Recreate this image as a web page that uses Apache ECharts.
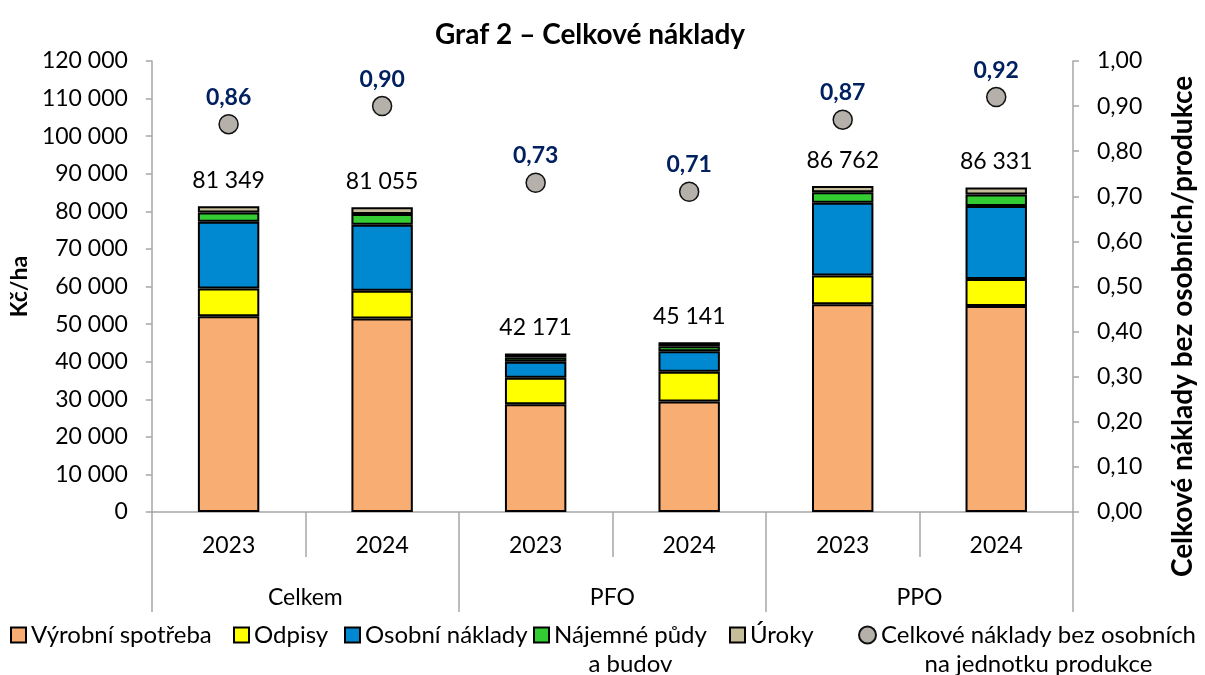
<!DOCTYPE html>
<html lang="cs">
<head>
  <meta charset="utf-8">
  <title>Graf 2 – Celkové náklady</title>
  <script src="https://cdn.jsdelivr.net/npm/echarts@6/dist/echarts.min.js"></script>
  <style>
    html, body { margin: 0; padding: 0; background: #fff; }
    #chart { width: 1205px; height: 675px; }
  </style>
</head>
<body>
<div id="chart"></div>
<script>
  // data
  const years = ['2023', '2024', '2023', '2024', '2023', '2024'];
  const groups = ['Celkem', 'PFO', 'PPO'];
  const vyrobni = [52100, 51500, 28700, 29400, 55300, 54800];
  const odpisy = [7400, 7400, 7000, 7900, 7600, 7200];
  const osobni = [17700, 17500, 4300, 5500, 19400, 19400];
  const najemne = [2500, 2900, 1100, 1300, 2800, 3100];
  const uroky = [1649, 1755, 1071, 1041, 1662, 1831];
  const totals = [81349, 81055, 42171, 45141, 86762, 86331];
  const ratio = [0.86, 0.90, 0.73, 0.71, 0.87, 0.92];

  const FONT = 'Lato, "Open Sans", sans-serif';
  const LEG_FONT = 24;
  const LEG_LINE = 29;
  const LEG_Y = 635; // centre of the first legend line

  function fmtThousands(v) {
    return String(v).replace(/\B(?=(\d{3})+(?!\d))/g, ' ');
  }
  function fmtDec(v) {
    return v.toFixed(2).replace('.', ',');
  }

  // measure the first line so the second one can be centred under it
  const measureCtx = document.createElement('canvas').getContext('2d');
  measureCtx.font = LEG_FONT + 'px ' + FONT;
  function textWidth(s) { return Math.ceil(measureCtx.measureText(s).width); }

  const chart = echarts.init(document.getElementById('chart'));

  function barSeries(name, data, color, withTotal) {
    const s = {
      name: name,
      type: 'bar',
      stack: 'costs',
      xAxisIndex: 0,
      yAxisIndex: 0,
      barWidth: '40%',
      data: data,
      itemStyle: { color: color, borderColor: '#000', borderWidth: 2 }
    };
    if (withTotal) {
      s.label = {
        show: true,
        position: 'top',
        distance: 14,
        fontFamily: FONT,
        fontSize: 23,
        color: '#000',
        formatter: p => fmtThousands(totals[p.dataIndex])
      };
    }
    return s;
  }

  // one legend per entry, placed where the original has it
  function legendItem(name, left, icon, size) {
    const lines = name.split('\n');
    const item = {
      left: left,
      top: LEG_Y - (lines.length === 2 ? 1.5 : 0.5) * LEG_LINE,
      padding: 0,
      itemWidth: size,
      itemHeight: size,
      textStyle: { fontFamily: FONT, fontSize: LEG_FONT, color: '#000', lineHeight: LEG_LINE },
      data: [{ name: name, icon: icon }]
    };
    if (lines.length === 2) {
      const w = textWidth(lines[0]);
      item.formatter = () => '{a|' + lines[0] + '}\n{b|' + lines[1] + '}';
      item.textStyle.padding = [LEG_LINE, 0, 0, 0];
      item.textStyle.rich = {
        a: { fontFamily: FONT, fontSize: LEG_FONT, color: '#000', lineHeight: LEG_LINE },
        b: { fontFamily: FONT, fontSize: LEG_FONT, color: '#000', lineHeight: LEG_LINE, width: w - 14, align: 'center' }
      };
    }
    return item;
  }

  const option = {
    animation: false,
    textStyle: { fontFamily: FONT },
    title: {
      text: 'Graf 2 – Celkové náklady',
      left: 585,
      textAlign: 'center',
      top: 16,
      textStyle: { fontFamily: FONT, fontSize: 28, fontWeight: 'bold', color: '#000' }
    },
    grid: { left: 147, right: 127, top: 61, bottom: 163 },
    legend: [
      legendItem('Výrobní spotřeba', 10, 'rect', 15),
      legendItem('Odpisy', 233, 'rect', 15),
      legendItem('Osobní náklady', 344, 'rect', 15),
      legendItem('Nájemné půdy\na budov', 533, 'rect', 15),
      legendItem('Úroky', 729, 'rect', 15),
      legendItem('Celkové náklady bez osobních\nna jednotku produkce', 858, 'circle', 17)
    ],
    xAxis: [
      {
        type: 'category',
        data: years,
        position: 'bottom',
        axisLine: { show: true, lineStyle: { color: '#A6A6A6', width: 1.5 } },
        axisTick: { show: true, interval: 0, length: 45, lineStyle: { color: '#A6A6A6', width: 1.5 } },
        axisLabel: { fontFamily: FONT, fontSize: 23, color: '#000', margin: 22 }
      },
      {
        type: 'category',
        data: groups,
        position: 'bottom',
        axisLine: { show: false },
        axisTick: { show: true, interval: 0, length: 100, lineStyle: { color: '#A6A6A6', width: 1.5 } },
        axisLabel: { fontFamily: FONT, fontSize: 23, color: '#000', margin: 74 }
      }
    ],
    yAxis: [
      {
        type: 'value',
        min: 0,
        max: 120000,
        interval: 10000,
        name: 'Kč/ha',
        nameLocation: 'middle',
        nameGap: 111,
        nameTextStyle: { fontFamily: FONT, fontSize: 23, fontWeight: 'bold', color: '#000' },
        axisLine: { show: true, lineStyle: { color: '#A6A6A6', width: 1.5 } },
        axisTick: { show: true, length: 6, lineStyle: { color: '#A6A6A6', width: 1.5 } },
        axisLabel: { fontFamily: FONT, fontSize: 23, color: '#000', margin: 24, formatter: fmtThousands },
        splitLine: { show: false }
      },
      {
        type: 'value',
        min: 0,
        max: 1,
        interval: 0.1,
        position: 'right',
        name: 'Celkové náklady bez osobních/produkce',
        nameLocation: 'middle',
        nameGap: 96,
        nameTextStyle: { fontFamily: FONT, fontSize: 28, fontWeight: 'bold', color: '#000', padding: [0, 80, 0, 0] },
        axisLine: { show: true, lineStyle: { color: '#A6A6A6', width: 1.5 } },
        axisTick: { show: true, length: 6, lineStyle: { color: '#A6A6A6', width: 1.5 } },
        axisLabel: { fontFamily: FONT, fontSize: 23, color: '#000', margin: 24, formatter: fmtDec },
        splitLine: { show: false }
      }
    ],
    series: [
      barSeries('Výrobní spotřeba', vyrobni, '#F8AD72', false),
      barSeries('Odpisy', odpisy, '#FFFF00', false),
      barSeries('Osobní náklady', osobni, '#0088D1', false),
      barSeries('Nájemné půdy\na budov', najemne, '#33CC33', false),
      barSeries('Úroky', uroky, '#C4BD97', true),
      {
        name: 'Celkové náklady bez osobních\nna jednotku produkce',
        type: 'scatter',
        xAxisIndex: 0,
        yAxisIndex: 1,
        symbol: 'circle',
        symbolSize: 19,
        data: ratio,
        itemStyle: { color: '#B5B0AA', borderColor: '#111', borderWidth: 1.5, opacity: 1 },
        label: {
          show: true,
          position: 'top',
          distance: 5,
          fontFamily: FONT,
          fontSize: 23,
          fontWeight: 'bold',
          color: '#002060',
          opacity: 1,
          formatter: p => fmtDec(p.value)
        }
      }
    ]
  };

  chart.setOption(option);
</script>
</body>
</html>
